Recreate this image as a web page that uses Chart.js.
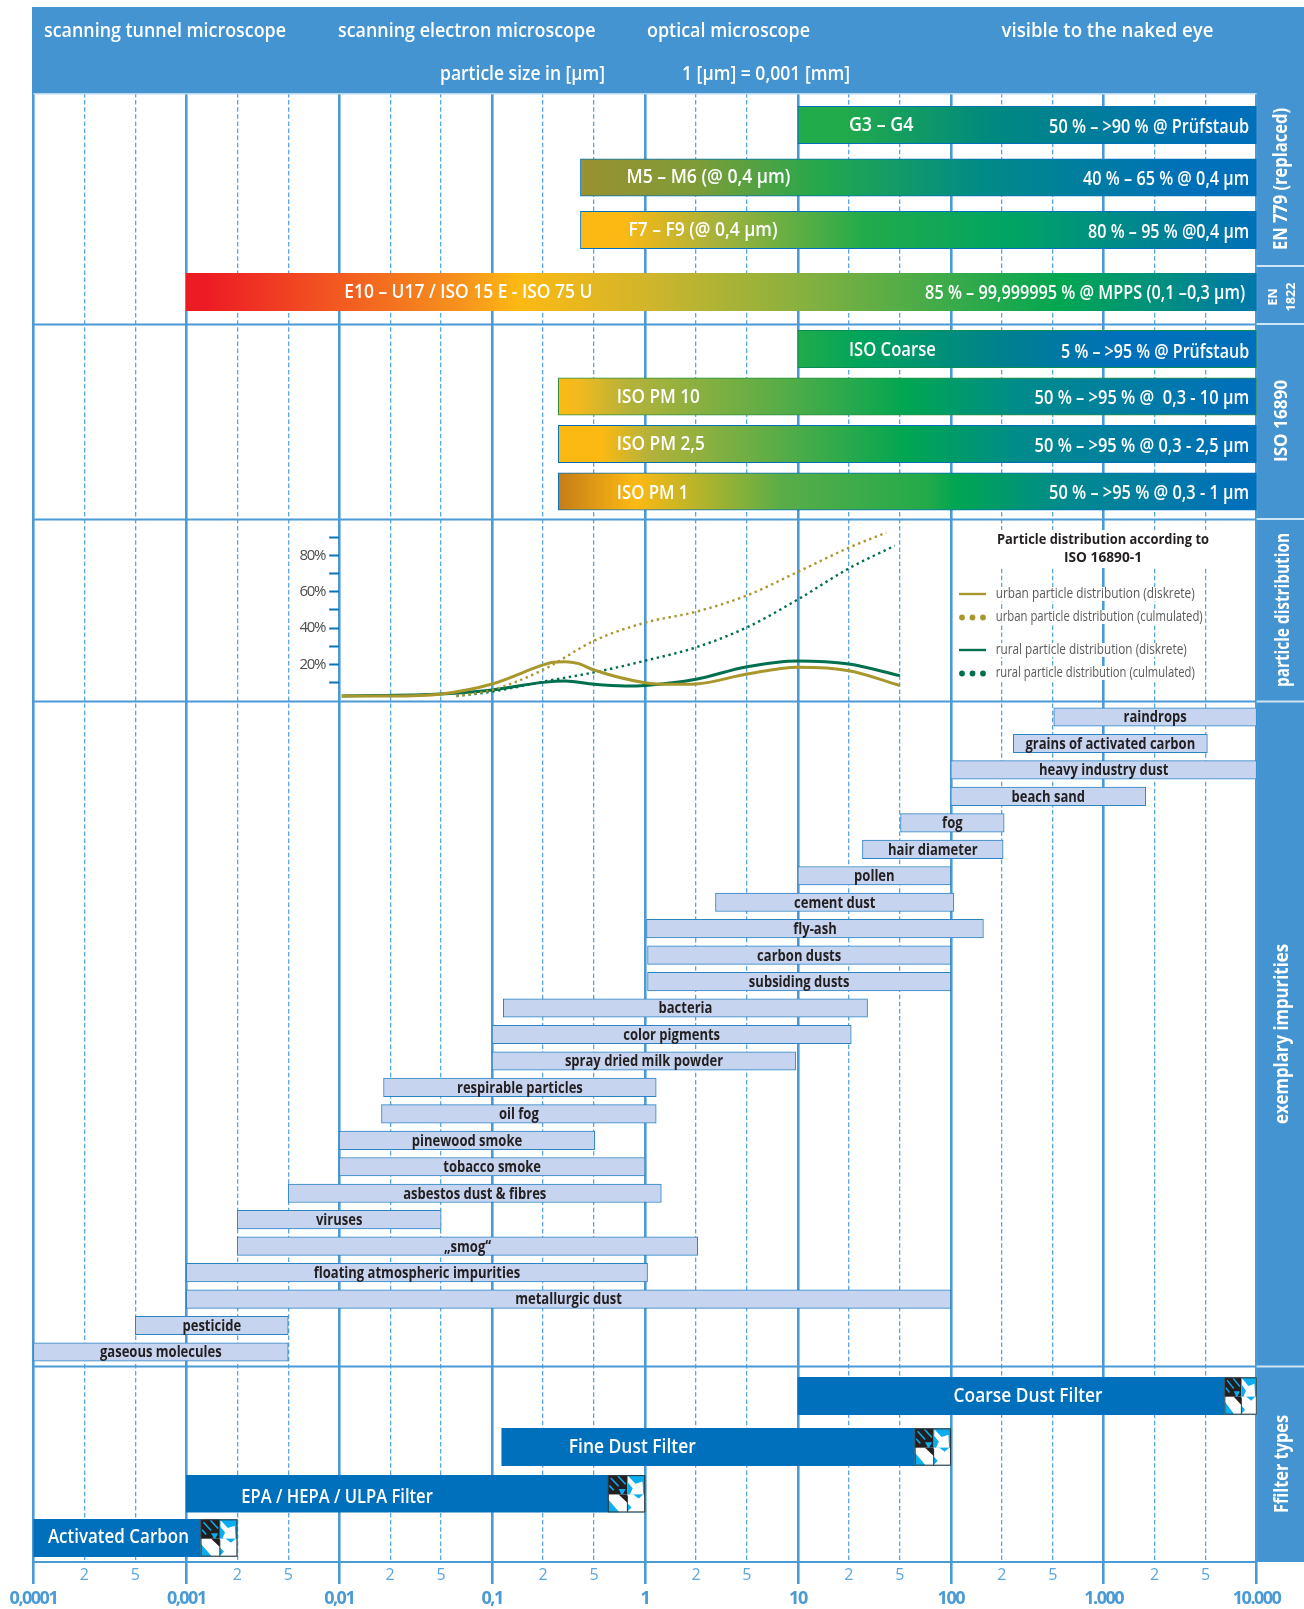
<!DOCTYPE html>
<html><head><meta charset="utf-8"><title>Particle size chart</title>
<style>html,body{margin:0;padding:0;background:#fff}canvas{display:block}</style>
<script src="https://cdn.jsdelivr.net/npm/chart.js@4/dist/chart.umd.js"></script>
</head><body><canvas id="c" width="1304" height="1609"></canvas>
<script>
// ---------- data ----------
const majorTicks=[0.0001,0.001,0.01,0.1,1,10,100,1000,10000];
const majorLabels=['0,0001','0,001','0,01','0,1','1','10','100','1.000','10.000'];
const minorTicks=[0.0002,0.0005,0.002,0.005,0.02,0.05,0.2,0.5,2,5,20,50,200,500,2000,5000];
const minorLabels=['2','5','2','5','2','5','2','5','2','5','2','5','2','5','2','5'];

const en779Names=['G3 – G4','M5 – M6 (@ 0,4 µm)','F7 – F9 (@ 0,4 µm)'];
const en779Eff=['50 % – >90 % @ Prüfstaub','40 % – 65 % @ 0,4 µm','80 % – 95 % @0,4 µm'];
const en779Low=[10,0.42,0.42];
const en779High=[10000,10000,10000];

const en1822Names=['E10 – U17 / ISO 15 E - ISO 75 U'];
const en1822Eff=['85 % – 99,999995 % @ MPPS (0,1 –0,3 µm)'];
const en1822Low=[0.001];
const en1822High=[10000];

const isoNames=['ISO Coarse','ISO PM 10','ISO PM 2,5','ISO PM 1'];
const isoEff=['5 % – >95 % @ Prüfstaub','50 % – >95 % @  0,3 - 10 µm','50 % – >95 % @ 0,3 - 2,5 µm','50 % – >95 % @ 0,3 - 1 µm'];
const isoLow=[10,0.29,0.29,0.29];
const isoHigh=[10000,10000,10000,10000];

const impurityNames=['raindrops','grains of activated carbon','heavy industry dust','beach sand','fog','hair diameter','pollen','cement dust','fly-ash','carbon dusts','subsiding dusts','bacteria','color pigments','spray dried milk powder','respirable particles','oil fog','pinewood smoke','tobacco smoke','asbestos dust & fibres','viruses','„smog“','floating atmospheric impurities','metallurgic dust','pesticide','gaseous molecules'];
const impurityLow=[510,268,100,100,50.7,28,10,3.15,1.03,1.05,1.05,0.122,0.1,0.1,0.0187,0.0183,0.01,0.01,0.005,0.002,0.002,0.001,0.001,0.0005,0.0001];
const impurityHigh=[10000,5170,10000,1825,214,208,100,106,164,100,100,31,21.4,9.8,1.22,1.22,0.507,1,1.32,0.05,2.1,1.05,100,0.005,0.005];

const filterNames=['Coarse Dust Filter','Fine Dust Filter','EPA / HEPA / ULPA Filter','Activated Carbon'];
const filterLow=[10,0.119,0.001,0.0001];
const filterHigh=[10000,100,1,0.002];

const distTicks=[10,20,30,40,50,60,70,80,90];
const distLabels=['','20%','','40%','','60%','','80%',''];
const urbanSizes=[0.0105,0.02,0.05,0.1,0.2,0.26,0.33,0.41,0.5,1,1.5,2,5,10,20,50];
const urbanDiscrete=[2.6,2.6,3.7,9.2,19.7,21.2,21.5,20.4,16.9,9.9,9,9.2,14.7,18.4,16.5,8.4];
const ruralSizes=[0.0105,0.05,0.1,0.2,0.33,0.5,0.8,1,2,5,10,20,50];
const ruralDiscrete=[2.6,3.7,5.9,10.1,10.8,9,8.1,8.4,11.8,18.7,21.9,20.2,13.8];
const urbanCumSizes=[0.065,0.1,0.2,0.5,1,2,5,10,20,42];
const urbanCumulated=[2.6,5.9,17,33,43,49,58,71,84.3,92.6];
const ruralCumSizes=[0.065,0.1,0.2,0.5,1,2,5,10,20,47];
const ruralCumulated=[2.6,5,10.5,15.6,22,29.4,40.4,55.8,72.9,85.4];

// ---------- style ----------
const BLUE='#4494d1', GRID='#4a9ad6', DASH='#5aa7df', PALE='#b8d8f0', FILTER='#0070bc';
const FONT='"Open Sans"';
const en779Grad=[
 [[0,'#22ab4a'],[.1,'#22ab4a'],[.42,'#00897f'],[.9,'#0070ba'],[1,'#0070ba']],
 [[0,'#9a9030'],[.17,'#7f9c38'],[.36,'#22a84d'],[.6,'#008a88'],[.9,'#0070ba'],[1,'#0070ba']],
 [[0,'#fdb913'],[.06,'#fdb913'],[.2,'#a8b23b'],[.42,'#22ab4a'],[.64,'#00a464'],[.83,'#00868f'],[1,'#0070ba']]];
const en1822Grad=[[[0,'#ed1c24'],[.02,'#ed1c24'],[.26,'#f7941d'],[.31,'#fdb913'],[.43,'#d1b52b'],[.59,'#7fb041'],[.82,'#00a651'],[1,'#0078ac']]];
const isoGrad=[
 [[0,'#22ab4a'],[.14,'#00a45c'],[.45,'#00808f'],[.7,'#0070ba'],[1,'#0070ba']],
 [[0,'#fdb913'],[.03,'#f1b91e'],[.1,'#b4b23a'],[.31,'#5bad47'],[.5,'#00a651'],[.66,'#008b8b'],[.97,'#0070ba'],[1,'#0070ba']],
 [[0,'#fdb913'],[.06,'#fdb913'],[.13,'#b4b23a'],[.31,'#5bad47'],[.5,'#00a651'],[.66,'#008b8b'],[.97,'#0070ba'],[1,'#0070ba']],
 [[0,'#c57d17'],[.11,'#fdb913'],[.32,'#59ad48'],[.53,'#22aa4a'],[.57,'#00a651'],[.72,'#008b8b'],[.97,'#0070ba'],[1,'#0070ba']]];
const en779Border=['#0070ba','#0070ba','#0070ba'];
const isoBorder=['#0a8d55','#2a8f3e','#0070ba','#0070ba'];

// pixel bands of the row axes
const bands={yEN779:[98.75,256.25],yEN1822:[273,311],yISO:[325.25,515.25],yImp:[703.8,1365.2],
 yF0:[1377,1415],yF1:[1428,1466],yF2:[1475,1512.5],yF3:[1519,1557]};
const DIST_BAND=[519.2,700.7];

// label placement (style only): [inset from bar start, width, dy]
const en779Place=[[51,64.6,0],[46,164,-0.5],[48,149,0.5]];
const en779EffPlace=[[200,2],[166,1.5],[161,2]];
const en1822Place=[[158,248,0]];
const en1822EffPlace=[[320,1.7,4]];
const isoPlace=[[51,87,1],[58.5,83,0.7],[58.5,88,0.5],[58.5,71.6,1.2]];
const isoEffPlace=[[188,3],[214.5,2],[214.5,2],[200,1.5]];
const filterPlace=[[155.7,149,0],[67,127,0],[55,191.5,3],[14.5,141,-1]];
const filterIconWidth=[32,36,37,36.6];

// schematic decade scale: 1, 2, 5, 10 evenly spaced within each decade
class SchematicLog extends Chart.LogarithmicScale{
  static id='schematicLog';
  static defaults=Chart.LogarithmicScale.defaults;
  _dec(v){
    const lo=Math.log10(this.min), hi=Math.log10(this.max);
    const e=Math.floor(Math.log10(v)+1e-9), m=v/Math.pow(10,e);
    const f=m<2?(m-1)/3:m<5?1/3+(m-2)/9:2/3+(m-5)/15;
    return (e+f-lo)/(hi-lo);
  }
  getPixelForValue(v){
    if(v===undefined||v===0)v=this.min;
    if(v===null||isNaN(v))return NaN;
    return this.getPixelForDecimal(this._dec(+v));
  }
}
Chart.register(SchematicLog);

function pairs(lo,hi){return lo.map((v,i)=>[v,hi[i]]);}
function gradient(stops,lows,highs){
  return c=>{
    const i=c.dataIndex; if(i===undefined)return '#000';
    const x=c.chart.scales.x; const x0=x.getPixelForValue(lows[i]),x1=x.getPixelForValue(highs[i]);
    if(!isFinite(x0)||!isFinite(x1))return stops[i][0][1];
    const g=c.chart.ctx.createLinearGradient(x0,0,x1,0);
    stops[i].forEach(s=>g.addColorStop(s[0],s[1])); return g;
  };
}
function barSet(id,names,lows,highs,extra){
  return Object.assign({type:'bar',indexAxis:'y',yAxisID:id,xAxisID:'x',label:id,data:pairs(lows,highs),
    grouped:false,categoryPercentage:1,barThickness:37.5,borderSkipped:false,borderWidth:1,order:2},extra);
}
function lineSet(label,xs,ys,color,dotted){
  return {type:'line',indexAxis:'x',label,xAxisID:'x',yAxisID:'yDist',data:xs.map((v,i)=>({x:v,y:ys[i]})),
    borderColor:color,borderWidth:dotted?2.4:3,borderDash:dotted?[2.4,3.6]:[],cubicInterpolationMode:'monotone',pointRadius:0,fill:false,order:1,clip:false};
}
function fit(ctx,text,x,y,w,o){
  ctx.save();
  ctx.font=o.font; ctx.fillStyle=o.color||'#fff'; ctx.textBaseline='middle'; ctx.textAlign='left';
  const m=ctx.measureText(text).width;
  const sx=w?w/m:(o.cond||1);
  ctx.translate(x,y); if(o.rot)ctx.rotate(o.rot); ctx.scale(sx,1);
  ctx.textAlign=o.align||'left'; ctx.fillText(text,0,0);
  ctx.restore();
}
function icon(c,xr,yt,w,h){
  const blue='#0aaeee', dark='#231f20';
  const poly=(col,p)=>{c.fillStyle=col;c.beginPath();p.forEach((q,i)=>i?c.lineTo(q[0],q[1]):c.moveTo(q[0],q[1]));c.closePath();c.fill();};
  c.save();
  c.translate(xr-w,yt);c.scale(w/105,h/108);
  c.fillStyle='#fff';c.fillRect(0,0,105,108);
  c.fillStyle=dark;c.fillRect(0,0,55,56);
  c.fillStyle=blue;c.fillRect(55,0,50,56);
  // white arrow in the upper right cell
  poly('#fff',[[57,2],[78,25],[98,18],[100,56],[62,56],[70,38],[57,22]]);
  // stripes and notches in the dark cell
  c.strokeStyle=blue;c.lineWidth=4.5;
  [[8,8,30,32],[28,2,50,26],[4,30,16,44]].forEach(p=>{c.beginPath();c.moveTo(p[0],p[1]);c.lineTo(p[2],p[3]);c.stroke();});
  poly(blue,[[30,40],[50,40],[40,60]]);
  // lower cells
  poly(dark,[[30,56],[55,56],[55,80]]);
  poly(blue,[[0,70],[0,108],[32,108]]);
  poly(blue,[[55,82],[55,106],[67,94]]);
  poly(blue,[[72,56],[100,56],[87,68]]);
  c.strokeStyle=dark;c.lineWidth=2.5;
  c.beginPath();c.moveTo(55,60);c.lineTo(55,108);c.stroke();
  c.lineWidth=3;c.strokeStyle='#2b3a42';c.strokeRect(1,1,103,106);
  c.restore();
}

const legendTexts=['urban particle distribution (diskrete)','urban particle distribution (culmulated)','rural particle distribution (diskrete)','rural particle distribution (culmulated)'];
const legendColors=['#a8972d','#a8972d','#006f4e','#006f4e'];
const legendDotted=[false,true,false,true];
const legendRowY=[594,617,650,673];
const legendWidth=[199,207,191,199];
const legendTitle=['Particle distribution according to','ISO 16890-1'];

function tightLabels(s,sp){
  const d=s.drawLabels;
  s.drawLabels=function(a){const c=this.ctx;c.save();c.letterSpacing=sp;d.call(this,a);c.restore();};
}
const panelPlugin={
  id:'panels',
  afterLayout(ch){
    for(const id in bands){const s=ch.scales[id];s.top=bands[id][0];s.bottom=bands[id][1];s.height=s.bottom-s.top;s.configure();}
    const x=ch.scales.x,x2=ch.scales.x2;
    x2.top=x.top;x2.bottom=x.bottom;x2.left=x.left;x2.right=x.right;x2.width=x.width;x2.configure();
    const d=ch.scales.yDist; d.top=DIST_BAND[0];d.bottom=DIST_BAND[1];d.height=d.bottom-d.top;
    d.right=x.getPixelForValue(0.01);d.left=d.right-70;d.width=70;d.configure();
    if(!x._tight){x._tight=1;tightLabels(x,'-1.5px');tightLabels(d,'-1.3px');}
  },
  beforeDraw(ch){
    const c=ch.ctx,a=ch.chartArea;
    c.save();
    c.fillStyle='#fff';c.fillRect(0,0,ch.width,ch.height);
    c.fillStyle=BLUE;c.fillRect(32,7,ch.width-32,a.top-7);
    c.fillRect(a.right,a.top,ch.width-a.right,a.bottom-a.top);
    c.restore();
  },
  beforeDatasetsDraw(ch){
    const c=ch.ctx,a=ch.chartArea;
    c.save();
    c.fillStyle=PALE;c.fillRect(a.left,a.top,a.right-a.left,1.5);
    c.fillStyle=GRID;
    [323.5,518.5,700.5,1365.5,a.bottom-1].forEach(y=>c.fillRect(a.left,y,a.right-a.left,2));
    c.fillStyle='#cfe4f4';
    [265,323,518,700.5,1365.5].forEach(y=>c.fillRect(a.right,y,ch.width-a.right,2));
    c.fillStyle='#fff';c.fillRect(965,530,290,38);
    legendRowY.forEach((y,i)=>c.fillRect(995,y-7,legendWidth[i]+2,14));
    c.restore();
  },
  afterDatasetsDraw(ch){
    const c=ch.ctx;
    const F=(s,w)=>`${w||700} ${s}px ${FONT}`;
    const barOf=(k,i)=>ch.getDatasetMeta(k).data[i];
    const h=F(20,600);
    [['scanning tunnel microscope',44,242,31],['scanning electron microscope',338,257.5,31],['optical microscope',647,163,31],['visible to the naked eye',1001.5,212,31],
     ['particle size in [µm]',440,165,74],['1 [µm] = 0,001 [mm]',682,168,74]].forEach(t=>fit(c,t[0],t[1],t[3],t[2],{font:h}));
    [['EN 779 (replaced)',1282,179,142,19],['ISO 16890',1282,421,82,18],['particle distribution',1284,610,154,19],['exemplary impurities',1283,1034,180,19],['Ffilter types',1282.6,1464,98,19]]
      .forEach(t=>fit(c,t[0],t[1],t[2],t[3],{font:F(t[4],700),rot:-Math.PI/2,align:'center'}));
    fit(c,'EN',1273.5,297,17,{font:F(13),rot:-Math.PI/2,align:'center'});
    fit(c,'1822',1291,297,29,{font:F(13),rot:-Math.PI/2,align:'center'});
    const right=ch.chartArea.right-7.5;
    const put=(k,names,eff,place,effPlace)=>names.forEach((n,i)=>{
      const b=barOf(k,i);const p=place[i];
      fit(c,n,b.base+p[0],b.y+p[2],p[1],{font:F(20.5,600)});
      const e=effPlace[i];
      fit(c,eff[i],right-(e[2]||0),b.y+e[1],e[0],{font:F(19.5,600),align:'right'});
    });
    put(0,en779Names,en779Eff,en779Place,en779EffPlace);
    put(1,en1822Names,en1822Eff,en1822Place,en1822EffPlace);
    put(2,isoNames,isoEff,isoPlace,isoEffPlace);
    impurityNames.forEach((n,i)=>{const b=barOf(3,i);
      fit(c,n,(b.base+b.x)/2,b.y+1,0,{font:F(15.5,700),cond:.84,color:'#231f20',align:'center'});});
    filterNames.forEach((n,i)=>{const b=barOf(4+i,0);const p=filterPlace[i];
      fit(c,n,b.base+p[0],b.y+p[2],p[1],{font:F(20.5,600)});
      icon(c,b.x,b.y-18.5,filterIconWidth[i],37);
    });
    fit(c,legendTitle[0],1103,540,212,{font:F(15,700),color:'#231f20',align:'center'});
    fit(c,legendTitle[1],1103,558,78,{font:F(15,700),color:'#231f20',align:'center'});
    legendTexts.forEach((t,i)=>{
      const y=legendRowY[i];
      c.save();c.strokeStyle=c.fillStyle=legendColors[i];
      if(legendDotted[i]){[962,972.5,983].forEach(px=>{c.beginPath();c.arc(px,y+.5,2.9,0,Math.PI*2);c.fill();});}
      else{c.lineWidth=2.4;c.beginPath();c.moveTo(959,y);c.lineTo(986,y);c.stroke();}
      c.restore();
      fit(c,t,995.7,y,legendWidth[i],{font:F(15,400),color:'#58595b'});
    });
  }
};

function bandAxis(names){return {type:'category',labels:names,display:false,offset:true,position:'left',axis:'y',grid:{display:false}};}
const hiddenY={
  yEN779:bandAxis(en779Names),yEN1822:bandAxis(en1822Names),yISO:bandAxis(isoNames),yImp:bandAxis(impurityNames),
  yF0:bandAxis([filterNames[0]]),yF1:bandAxis([filterNames[1]]),yF2:bandAxis([filterNames[2]]),yF3:bandAxis([filterNames[3]])
};
new Chart(document.getElementById('c'),{
  data:{datasets:[
    barSet('yEN779',en779Names,en779Low,en779High,{backgroundColor:gradient(en779Grad,en779Low,en779High),borderColor:en779Border}),
    barSet('yEN1822',en1822Names,en1822Low,en1822High,{backgroundColor:gradient(en1822Grad,en1822Low,en1822High),borderColor:'#3d86b8',borderWidth:0}),
    barSet('yISO',isoNames,isoLow,isoHigh,{backgroundColor:gradient(isoGrad,isoLow,isoHigh),borderColor:isoBorder}),
    barSet('yImp',impurityNames,impurityLow,impurityHigh,{backgroundColor:'#c6d4ef',borderColor:'#2b84c6',barThickness:18.5}),
    barSet('yF0',[filterNames[0]],[filterLow[0]],[filterHigh[0]],{backgroundColor:FILTER,borderWidth:0,barThickness:38}),
    barSet('yF1',[filterNames[1]],[filterLow[1]],[filterHigh[1]],{backgroundColor:FILTER,borderWidth:0,barThickness:38}),
    barSet('yF2',[filterNames[2]],[filterLow[2]],[filterHigh[2]],{backgroundColor:FILTER,borderWidth:0,barThickness:38}),
    barSet('yF3',[filterNames[3]],[filterLow[3]],[filterHigh[3]],{backgroundColor:FILTER,borderWidth:0,barThickness:38}),
    lineSet('urban particle distribution (diskrete)',urbanSizes,urbanDiscrete,'#a8972d',false),
    lineSet('urban particle distribution (culmulated)',urbanCumSizes,urbanCumulated,'#a8972d',true),
    lineSet('rural particle distribution (diskrete)',ruralSizes,ruralDiscrete,'#006f4e',false),
    lineSet('rural particle distribution (culmulated)',ruralCumSizes,ruralCumulated,'#006f4e',true)
  ]},
  options:{
    responsive:false,animation:false,devicePixelRatio:1,
    layout:{padding:{left:33.4,top:93,right:47.4,bottom:0}},
    plugins:{legend:{display:false},tooltip:{enabled:false},title:{display:false}},
    scales:Object.assign({
      x:{type:'schematicLog',position:'bottom',axis:'x',min:0.0001,max:10000,
        afterBuildTicks:s=>{s.ticks=majorTicks.map(v=>({value:v,major:true}));},
        afterFit:s=>{s.height=47;},
        ticks:{autoSkip:false,maxRotation:0,minRotation:0,padding:4,color:GRID,font:{family:'"Open Sans"',weight:'bold',size:18},callback:(v,i)=>majorLabels[i]},
        grid:{color:GRID,lineWidth:2.6,tickColor:GRID,tickLength:22,tickWidth:2.6},border:{display:false}},
      x2:{type:'schematicLog',position:'bottom',axis:'x',min:0.0001,max:10000,
        afterBuildTicks:s=>{s.ticks=minorTicks.map(v=>({value:v}));},
        afterFit:s=>{s.height=0;},
        ticks:{autoSkip:false,maxRotation:0,minRotation:0,padding:4,color:DASH,font:{family:'"Open Sans"',size:16},callback:(v,i)=>minorLabels[i]},
        grid:{color:DASH,lineWidth:1.3,drawTicks:false},border:{display:false,dash:[4.5,2.6]}},
      yDist:{type:'linear',position:'left',axis:'y',min:0,max:100,
        afterBuildTicks:s=>{s.ticks=distTicks.map(v=>({value:v}));},
        afterFit:s=>{s.width=0;},
        ticks:{autoSkip:false,padding:4,color:'#4d4d4d',font:{family:'"Open Sans"',size:15},callback:(v,i)=>distLabels[i]},
        grid:{drawOnChartArea:false,tickColor:'#0a74b9',tickWidth:2,tickLength:10},border:{display:false}}
    },hiddenY)
  },
  plugins:[panelPlugin]
});
</script></body></html>
